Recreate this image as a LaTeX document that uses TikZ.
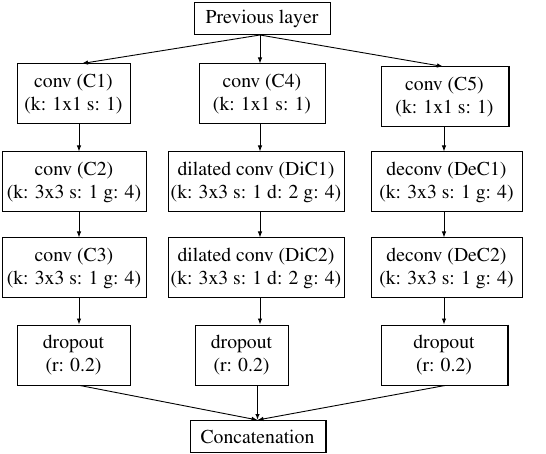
\documentclass[tikz,border=0pt]{standalone}
\usepackage[T1]{fontenc}
\usepackage{mathptmx}
\usetikzlibrary{arrows.meta}
\tikzset{
  box/.style={draw, line width=1pt, inner sep=0pt, align=center, minimum height=60pt,
    font=\rmfamily\fontsize{19.7}{23}\selectfont},
  thinbox/.style={box, minimum height=32pt},
  arr/.style={line width=0.9pt, -{Latex[length=6pt,width=4.5pt]}},
  heavyedge/.style={line width=2pt}
}
\begin{document}
\begin{tikzpicture}[x=1pt,y=-1pt]
\useasboundingbox (0,0) rectangle (546,454);
% column coordinates
\coordinate (colA) at (79,0);
\coordinate (colB) at (260,0);
\coordinate (colC) at (444,0);
% nodes
\node[thinbox, minimum width=136pt] (prev) at (262,18.5) {Previous layer};
\node[box, minimum width=113pt] (c1) at (73.5,94) {conv (C1)\\(k: 1x1 s: 1)};
\node[box, minimum width=126pt] (c4) at (262,94) {conv (C4)\\(k: 1x1 s: 1)};
\node[box, minimum width=127pt] (c5) at (444.5,97) {conv (C5)\\(k: 1x1 s: 1)};
\node[box, minimum width=144pt] (c2) at (74,182) {conv (C2)\\(k: 3x3 s: 1 g: 4)};
\node[box, minimum width=176pt] (dic1) at (256,182) {dilated conv (DiC1)\\(k: 3x3 s: 1 d: 2 g: 4)};
\node[box, minimum width=151pt] (dcc1) at (446.5,182) {deconv (DeC1)\\(k: 3x3 s: 1 g: 4)};
\node[box, minimum width=144pt] (c3) at (74,268) {conv (C3)\\(k: 3x3 s: 1 g: 4)};
\node[box, minimum width=176pt] (dic2) at (256,268) {dilated conv (DiC2)\\(k: 3x3 s: 1 d: 2 g: 4)};
\node[box, minimum width=151pt] (dcc2) at (446.5,268) {deconv (DeC2)\\(k: 3x3 s: 1 g: 4)};
\node[box, minimum width=113pt] (d1) at (73.5,355) {dropout\\(r: 0.2)};
\node[box, minimum width=93pt] (d2) at (241.5,355) {dropout\\(r: 0.2)};
\node[box, minimum width=126pt] (d3) at (444,355) {dropout\\(r: 0.2)};
\node[thinbox, minimum width=135pt] (cat) at (257.5,436.5) {Concatenation};
% slightly heavier right edges
\draw[heavyedge] (c5.north east) -- (c5.south east);
\draw[heavyedge] (d3.north east) -- (d3.south east);
\draw[heavyedge] (cat.north east) -- (cat.south east);
% connectors from previous layer
\coordinate (ps) at ([xshift=-2pt]prev.south);
\draw[arr] (ps) -- (c1.north -| 82,0);
\draw[arr] (ps) -- (c4.north -| colB);
\draw[arr] (ps) -- (c5.north -| 443,0);
% columns
\draw[arr] (c1.south -| colA) -- (c2.north -| colA);
\draw[arr] (c2.south -| colA) -- (c3.north -| colA);
\draw[arr] (c3.south -| colA) -- (d1.north -| colA);
\draw[arr] (c4.south -| colB) -- (dic1.north -| colB);
\draw[arr] (dic1.south -| colB) -- (dic2.north -| colB);
\draw[arr] (dic2.south -| colB) -- (d2.north -| colB);
\draw[arr] (c5.south -| colC) -- (dcc1.north -| colC);
\draw[arr] (dcc1.south -| colC) -- (dcc2.north -| colC);
\draw[arr] (dcc2.south -| colC) -- (d3.north -| colC);
% to concatenation
\draw[arr] (d1.south -| 80,0) -- (cat.north);
\draw[arr, line width=1.4pt] (d2.south -| cat.north) -- (cat.north);
\draw[arr] (d3.south -| 445,0) -- (cat.north);
\end{tikzpicture}
\end{document}
